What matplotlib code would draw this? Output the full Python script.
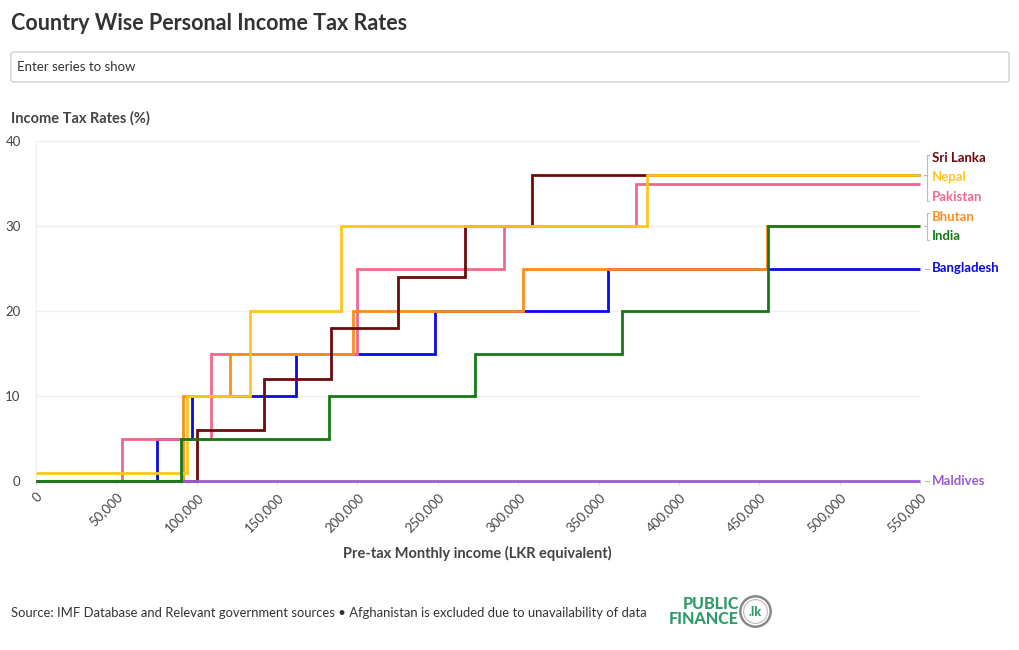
import matplotlib.pyplot as plt
from matplotlib.patches import FancyBboxPatch, Circle

plt.rcParams['font.family'] = ['Lato', 'DejaVu Sans']

# === DATOS ===
# escalones: monto mensual donde empieza cada tasa, y la tasa
sri_lanka_x = [0, 100000, 141667, 183333, 225000, 266667, 308333, 550000]
sri_lanka_y = [0, 6, 12, 18, 24, 30, 36, 36]

nepal_x = [0, 94000, 133000, 190000, 380000, 550000]
nepal_y = [1, 10, 20, 30, 36, 36]

pakistan_x = [0, 53500, 109000, 200000, 291000, 373000, 550000]
pakistan_y = [0, 5, 15, 25, 30, 35, 35]

bhutan_x = [0, 91500, 120500, 197000, 303000, 454500, 550000]
bhutan_y = [0, 10, 15, 20, 25, 30, 30]

india_x = [0, 90500, 182500, 273000, 364500, 455500, 550000]
india_y = [0, 5, 10, 15, 20, 30, 30]

bangladesh_x = [0, 75000, 97000, 161700, 248000, 356000, 550000]
bangladesh_y = [0, 5, 10, 15, 20, 25, 25]

maldives_x = [0, 550000]
maldives_y = [0, 0]

# orden de dibujo (de abajo hacia arriba)
series = [
    ("Bangladesh", bangladesh_x, bangladesh_y, "#0a0ae6"),
    ("Pakistan", pakistan_x, pakistan_y, "#f2688c"),
    ("Bhutan", bhutan_x, bhutan_y, "#ff8c1a"),
    ("Sri Lanka", sri_lanka_x, sri_lanka_y, "#6e0a0a"),
    ("Maldives", maldives_x, maldives_y, "#9a5bd6"),
    ("Nepal", nepal_x, nepal_y, "#ffc61a"),
    ("India", india_x, india_y, "#157a15"),
]

x_ticks = [0, 50000, 100000, 150000, 200000, 250000, 300000, 350000, 400000, 450000, 500000, 550000]
y_ticks = [0, 10, 20, 30, 40]

# posiciones de etiquetas a la derecha (en unidades de datos)
label_pos = {"Sri Lanka": 38.0, "Nepal": 35.8, "Pakistan": 33.4, "Bhutan": 31.1,
             "India": 28.8, "Bangladesh": 25.0, "Maldives": 0.0}

W, H = 1020, 650
fig = plt.figure(figsize=(W / 100, H / 100), dpi=100)
ax = fig.add_axes([36 / W, 1 - 481 / H, (920 - 36) / W, (481 - 141) / H])

for name, xs, ys, col in series:
    ax.plot(xs, ys, drawstyle="steps-post", color=col, lw=2.0, solid_joinstyle="miter",
            solid_capstyle="butt", zorder=3, clip_on=False)

ax.set_xlim(0, 550000)
ax.set_ylim(0, 40)
ax.set_xticks(x_ticks)
ax.set_xticklabels([f"{v:,}" for v in x_ticks], rotation=45, ha="right", rotation_mode="anchor",
                   fontsize=9.5, color="#444444")
ax.set_yticks(y_ticks)
ax.set_yticklabels([str(v) for v in y_ticks], fontsize=9.5, color="#444444")
ax.tick_params(axis="x", length=3, color="#dddddd", pad=4)
ax.tick_params(axis="y", length=0, pad=11)
ax.grid(axis="y", color="#eeeeee", lw=0.9)
ax.set_axisbelow(True)
for s in ["top", "right", "bottom"]:
    ax.spines[s].set_visible(False)
ax.spines["left"].set_color("#eeeeee")
ax.spines["left"].set_linewidth(0.9)

# === ETIQUETAS DERECHA ===
colors = {n: c for n, _, _, c in series}
trans = ax.get_yaxis_transform()
for name, yv in label_pos.items():
    ax.text(1 + 12 / 884, yv, name, transform=trans, color=colors[name],
            fontsize=9.5, fontweight="bold", va="center", ha="left", clip_on=False)

bx = 1 + 7 / 884
# corchete Sri Lanka / Nepal / Pakistan
ax.plot([bx + 2 / 884, bx, bx, bx + 2 / 884], [38.4, 38.4, 33.0, 33.0], transform=trans,
        color="#bbbbbb", lw=0.8, clip_on=False)
ax.plot([bx - 3 / 884, bx], [36, 36], transform=trans, color="#bbbbbb", lw=0.8, clip_on=False)
# corchete Bhutan / India
ax.plot([bx + 2 / 884, bx, bx, bx + 2 / 884], [31.5, 31.5, 28.4, 28.4], transform=trans,
        color="#bbbbbb", lw=0.8, clip_on=False)
ax.plot([bx - 3 / 884, bx], [30, 30], transform=trans, color="#bbbbbb", lw=0.8, clip_on=False)
for yv in [25, 0]:
    ax.plot([bx - 2 / 884, bx + 2 / 884], [yv, yv], transform=trans, color="#bbbbbb", lw=0.8,
            clip_on=False)

# === TEXTOS ===
fig.text(11 / W, 1 - 24 / H, "Country Wise Personal Income Tax Rates", fontsize=15.5,
         fontweight="bold", color="#333333", va="center")
box = FancyBboxPatch((11 / W, 1 - 82 / H), 998 / W, 30 / H, boxstyle="round,pad=0,rounding_size=0.003",
                     transform=fig.transFigure, fc="white", ec="#cccccc", lw=0.9)
fig.patches.append(box)
fig.text(17 / W, 1 - 67 / H, "Enter series to show", fontsize=9.5, color="#333333", va="center")
fig.text(11 / W, 1 - 118 / H, "Income Tax Rates (%)", fontsize=10.5, fontweight="bold",
         color="#444444", va="center")
fig.text(477 / W, 1 - 553 / H, "Pre-tax Monthly income (LKR equivalent)", fontsize=10.5,
         fontweight="bold", color="#444444", va="center", ha="center")
fig.text(11 / W, 1 - 613 / H,
         "Source: IMF Database and Relevant government sources \u2022 Afghanistan is excluded due to unavailability of data",
         fontsize=9.4, color="#333333", va="center")

# logo
fig.text(739 / W, 1 - 604 / H, "PUBLIC", fontsize=11.5, fontweight="black", color="#2f9a6a",
         ha="right", va="center")
fig.text(739 / W, 1 - 619 / H, "FINANCE", fontsize=11.5, fontweight="black", color="#2f9a6a",
         ha="right", va="center")
logo_ax = fig.add_axes([739 / W, 1 - 628 / H, 33 / W, 33 / H])
logo_ax.set_xlim(-1, 1)
logo_ax.set_ylim(-1, 1)
logo_ax.set_aspect("equal")
logo_ax.axis("off")
logo_ax.add_patch(Circle((0, 0), 0.92, fc="white", ec="#888888", lw=1.8))
logo_ax.add_patch(Circle((0, 0), 0.72, fc="white", ec="#bbbbbb", lw=0.8))
logo_ax.text(0, 0, ".lk", ha="center", va="center", fontsize=9, fontweight="black", color="#2f9a6a")

fig.savefig("out.png", dpi=100, facecolor="white")
